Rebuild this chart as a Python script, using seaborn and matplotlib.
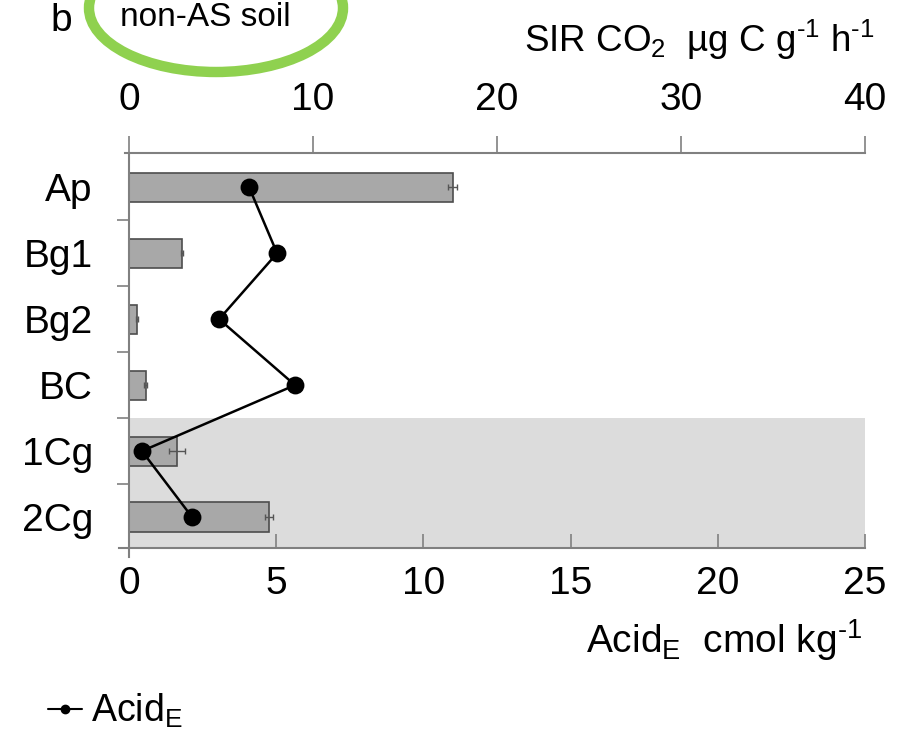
import matplotlib
matplotlib.use("Agg")
import matplotlib.pyplot as plt
from matplotlib.patches import Ellipse
from matplotlib.lines import Line2D
import seaborn as sns
import pandas as pd
import numpy as np

# ---- data ----
horizons = ["Ap", "Bg1", "Bg2", "BC", "1Cg", "2Cg"]
sir_co2 = [17.6, 2.9, 0.45, 0.9, 2.6, 7.6]          # top axis, ug C g-1 h-1
sir_err = [0.25, 0.05, 0.05, 0.1, 0.45, 0.2]
acid_e = [4.08, 5.03, 3.06, 5.64, 0.44, 2.14]        # bottom axis, cmol kg-1
sir_ticks = [0, 10, 20, 30, 40]
acid_ticks = [0, 5, 10, 15, 20, 25]

df = pd.DataFrame({"horizon": horizons, "sir": sir_co2, "err": sir_err, "acid": acid_e})

sns.set_style("white")
plt.rcParams["font.family"] = ["Liberation Sans", "DejaVu Sans"]
plt.rcParams["mathtext.default"] = "regular"
plt.rcParams["text.color"] = "black"
plt.rcParams["xtick.labelcolor"] = "black"
plt.rcParams["ytick.labelcolor"] = "black"

fig = plt.figure(figsize=(8.99, 7.36), dpi=100)
W, H = 899, 736
ax = fig.add_axes([129 / W, 1 - 548 / H, (865 - 129) / W, (548 - 153) / H])

spine_c = "#808080"
FS = 28

# shaded region for 1Cg / 2Cg
ax.axhspan(3.5, 5.6, color="#dcdcdc", zorder=0, lw=0)

# bars on the SIR axis (drawn on main axes, ticks placed on top)
sns.barplot(data=df, x="sir", y="horizon", orient="h", ax=ax, color="#a8a8a8",
            edgecolor="#4d4d4d", linewidth=1.2, width=0.44, saturation=1, zorder=2)
ax.errorbar(df["sir"], np.arange(len(horizons)), xerr=df["err"], fmt="none",
            ecolor="#555555", elinewidth=1.0, capsize=2.5, zorder=3)
ax.set_xlim(0, 40)
ax.set_ylim(5.47, -0.52)

# line of AcidE on twin axes (bottom ticks)
ax2 = ax.twiny()
sns.pointplot(data=df, x="acid", y="horizon", orient="h", ax=ax2, color="black",
              markers="o", markersize=11.5, linewidth=1.8, zorder=5)
ax2.set_xlim(0, 25)
ax2.set_ylim(5.47, -0.52)

# ---- axes styling ----
ax.xaxis.tick_top()
ax.xaxis.set_label_position("top")
ax.set_xticks(sir_ticks)
ax.set_xticklabels([str(t) for t in sir_ticks])
ax.tick_params(axis="x", which="major", direction="out", length=12, width=1.2,
               color=spine_c, labelsize=FS, pad=13, top=True, bottom=False)
ax.set_xlabel("")
ax.set_ylabel("")

ax2.xaxis.tick_bottom()
ax2.xaxis.set_label_position("bottom")
ax2.set_xticks(acid_ticks)
ax2.set_xticklabels([str(t) for t in acid_ticks])
ax2.tick_params(axis="x", which="major", direction="in", length=10, width=1.2,
                color=spine_c, labelsize=FS, pad=13, bottom=True, top=False)
ax2.set_xlabel("")
ax2.set_ylabel("")

# y axis: labels on categories, ticks at boundaries
ax.set_yticks(range(len(horizons)))
ax.set_yticklabels(horizons)
ax.tick_params(axis="y", which="major", length=0, labelsize=FS, pad=26)
ax.set_yticks([0.5, 1.5, 2.5, 3.5, 4.5], minor=True)
ax.tick_params(axis="y", which="minor", direction="out", length=9, width=1.2,
               color=spine_c, left=True)
ax2.tick_params(axis="y", left=False, right=False, labelleft=False, labelright=False)

for a in (ax, ax2):
    for s in a.spines.values():
        s.set_visible(False)
ax.spines["top"].set_visible(True)
ax.spines["top"].set_color(spine_c)
ax.spines["top"].set_linewidth(1.5)
ax.spines["left"].set_visible(True)
ax.spines["left"].set_color(spine_c)
ax.spines["left"].set_linewidth(1.5)
ax.spines["left"].set_bounds(5.6, -0.52)
ax2.spines["bottom"].set_visible(True)
ax2.spines["bottom"].set_color(spine_c)
ax2.spines["bottom"].set_linewidth(1.5)
ax2.spines["bottom"].set_bounds(-0.35, 25)
ax.spines["top"].set_bounds(-0.2, 40)
ax.patch.set_visible(False)
ax2.patch.set_visible(False)

# axis titles
fig.text(524 / W, 1 - 40 / H, "SIR CO$_2$  µg C g$^{\u20101}$ h$^{\u20101}$", fontsize=26.5,
         ha="left", va="center")
fig.text(862 / W, 1 - 640 / H, "Acid$_E$  cmol kg$^{\u20101}$", fontsize=28,
         ha="right", va="center")

# panel label and circled subtitle
fig.text(50 / W, 1 - 3 / H, "b", fontsize=28, ha="left", va="top")
fig.text(205 / W, 1 - 17 / H, "non-AS soil", fontsize=24, ha="center", va="center")
ell = Ellipse((216 / W, 1 - 8 / H), 254 / W, 128 / H, transform=fig.transFigure,
              fill=False, edgecolor="#8fd14f", linewidth=7.5)
fig.add_artist(ell)

# legend
handle = Line2D([], [], color="black", marker="o", markersize=6, linewidth=1.5)
fig.legend([handle], ["Acid$_E$"], loc="center left", bbox_to_anchor=(48 / W, 1 - 711 / H),
           frameon=False, fontsize=27, handlelength=0.9, handletextpad=0.25,
           borderaxespad=0, borderpad=0)

fig.savefig("out.png", dpi=100)
